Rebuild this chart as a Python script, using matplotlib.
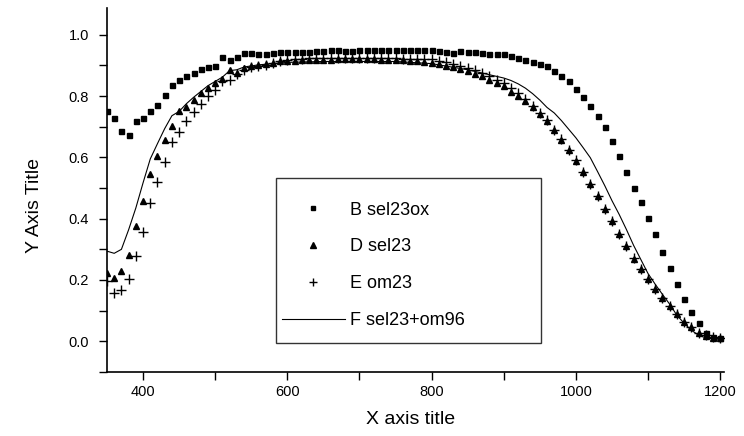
import matplotlib
matplotlib.use("Agg")
import matplotlib.pyplot as plt
from matplotlib.patches import Rectangle
from matplotlib.ticker import MultipleLocator, FormatStrFormatter

plt.rcParams["font.family"] = ["Liberation Sans", "DejaVu Sans"]

# ==============================
# Data
# ==============================

wavelength = list(range(350, 1201, 10))

b_sel23ox = [
    0.750, 0.730, 0.685, 0.674, 0.718, 0.730, 0.753, 0.772, 0.805, 0.837,
    0.853, 0.864, 0.877, 0.888, 0.894, 0.899, 0.926, 0.918, 0.929, 0.940,
    0.940, 0.939, 0.939, 0.940, 0.943, 0.943, 0.944, 0.944, 0.945, 0.946,
    0.948, 0.949, 0.949, 0.948, 0.948, 0.949, 0.950, 0.951, 0.950, 0.950,
    0.949, 0.950, 0.950, 0.951, 0.951, 0.949, 0.946, 0.944, 0.940, 0.946,
    0.945, 0.943, 0.940, 0.938, 0.936, 0.937, 0.930, 0.925, 0.918, 0.912,
    0.904, 0.897, 0.883, 0.864, 0.848, 0.823, 0.796, 0.767, 0.736, 0.698,
    0.653, 0.604, 0.552, 0.500, 0.454, 0.402, 0.349, 0.291, 0.240, 0.188,
    0.139, 0.096, 0.059, 0.028, 0.015, 0.012,
]

d_sel23 = [
    0.224, 0.207, 0.229, 0.280, 0.376, 0.457, 0.547, 0.604, 0.658, 0.704,
    0.752, 0.764, 0.788, 0.810, 0.828, 0.843, 0.856, 0.886, 0.877, 0.891,
    0.899, 0.902, 0.904, 0.908, 0.913, 0.915, 0.916, 0.917, 0.918, 0.918,
    0.919, 0.919, 0.920, 0.920, 0.920, 0.920, 0.920, 0.920, 0.919, 0.919,
    0.918, 0.917, 0.916, 0.914, 0.912, 0.908, 0.904, 0.899, 0.894, 0.888,
    0.881, 0.873, 0.864, 0.853, 0.843, 0.834, 0.815, 0.799, 0.783, 0.763,
    0.742, 0.718, 0.691, 0.658, 0.623, 0.587, 0.552, 0.514, 0.473, 0.432,
    0.392, 0.351, 0.311, 0.270, 0.237, 0.202, 0.172, 0.142, 0.115, 0.088,
    0.063, 0.045, 0.028, 0.017, 0.012, 0.010,
]

e_om23 = [
    0.197, 0.159, 0.166, 0.202, 0.278, 0.357, 0.452, 0.519, 0.585, 0.650,
    0.682, 0.718, 0.747, 0.775, 0.801, 0.821, 0.848, 0.853, 0.873, 0.886,
    0.894, 0.899, 0.902, 0.908, 0.913, 0.918, 0.920, 0.922, 0.923, 0.924,
    0.924, 0.925, 0.925, 0.925, 0.925, 0.925, 0.925, 0.925, 0.924, 0.924,
    0.923, 0.922, 0.921, 0.920, 0.920, 0.920, 0.916, 0.910, 0.906, 0.899,
    0.891, 0.884, 0.875, 0.864, 0.853, 0.843, 0.828, 0.810, 0.792, 0.769,
    0.745, 0.721, 0.691, 0.660, 0.625, 0.590, 0.552, 0.514, 0.473, 0.433,
    0.392, 0.351, 0.311, 0.273, 0.237, 0.202, 0.172, 0.142, 0.115, 0.088,
    0.063, 0.045, 0.028, 0.020, 0.014, 0.012,
]

f_x = [350, 360, 370, 380, 390, 400, 410, 420, 430, 440, 450, 460, 470,
       480, 490, 500, 510, 520, 530, 540, 560, 600, 650, 700, 750, 800,
       850, 900, 910, 920, 930, 940, 950, 960, 970, 980, 990, 1000, 1010,
       1020, 1030, 1040, 1050, 1060, 1070, 1080, 1090, 1100, 1110, 1120,
       1130, 1140, 1150, 1160, 1170, 1180, 1190, 1200]
f_sel23_om96 = [0.294, 0.287, 0.300, 0.364, 0.435, 0.517, 0.595, 0.645,
                0.694, 0.736, 0.750, 0.775, 0.796, 0.815, 0.834, 0.848,
                0.862, 0.883, 0.886, 0.895, 0.902, 0.910, 0.913, 0.913,
                0.913, 0.906, 0.886, 0.859, 0.851, 0.840, 0.826, 0.808,
                0.787, 0.763, 0.745, 0.720, 0.692, 0.664, 0.632, 0.599,
                0.554, 0.508, 0.459, 0.414, 0.365, 0.313, 0.267, 0.221,
                0.186, 0.153, 0.121, 0.085, 0.059, 0.036, 0.020, 0.011,
                0.008, 0.007]

# ==============================
# Plot
# ==============================

fig = plt.figure(figsize=(7.44, 4.36), dpi=100)
ax = fig.add_axes([0.1438, 0.147, 0.829, 0.835])

ax.plot(wavelength, b_sel23ox, "s", color="black", ms=3.6, label="B sel23ox")
ax.plot(wavelength, d_sel23, "^", color="black", ms=4.5, label="D sel23")
ax.plot(wavelength, e_om23, "+", color="black", ms=7, mew=1.0, label="E om23")
ax.plot(f_x, f_sel23_om96, "-", color="black", lw=0.8, label="F sel23+om96")

ax.set_xlim(350, 1205)
ax.set_ylim(-0.1, 1.088)

ax.xaxis.set_major_locator(MultipleLocator(200))
ax.xaxis.set_minor_locator(MultipleLocator(100))
ax.yaxis.set_major_locator(MultipleLocator(0.2))
ax.yaxis.set_minor_locator(MultipleLocator(0.1))
ax.yaxis.set_major_formatter(FormatStrFormatter("%.1f"))

ax.tick_params(which="both", direction="out", length=5.8, width=1, labelsize=10.5)
ax.tick_params(axis="x", pad=3.8)
ax.tick_params(axis="y", pad=7)
ax.spines["top"].set_visible(False)
ax.spines["right"].set_visible(False)
ax.spines["left"].set_linewidth(1.2)
ax.spines["bottom"].set_linewidth(1.2)

ax.set_xlabel("X axis title", fontsize=14)
ax.set_ylabel("Y Axis Title", fontsize=14)
ax.xaxis.set_label_coords(0.493, -0.108)
ax.yaxis.set_label_coords(-0.104, 0.456)

# legend box drawn separately, Origin style
ax.add_patch(Rectangle((0.274, 0.080), 0.429, 0.453, transform=ax.transAxes,
                       fill=False, edgecolor="#333333", lw=1.0, zorder=3))
ax.legend(loc="upper left", bbox_to_anchor=(0.283, 0.468), frameon=False,
          fontsize=13, handlelength=3.5, handletextpad=0.3,
          labelspacing=1.1, borderpad=0, borderaxespad=0, markerscale=0.85)

plt.savefig("out.png", dpi=100)
plt.close()
